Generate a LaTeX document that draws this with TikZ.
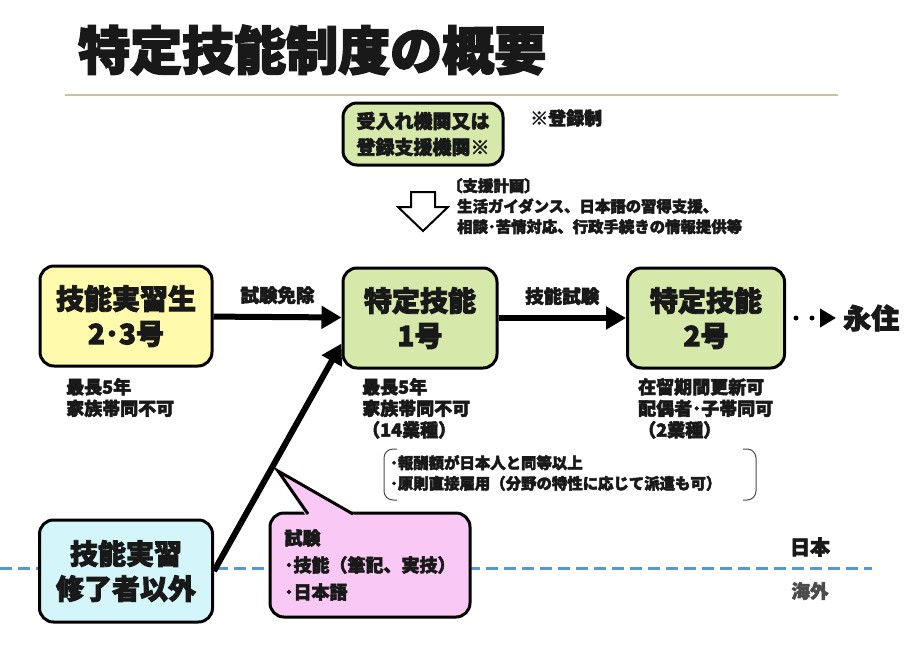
\documentclass[tikz,border=0pt]{standalone}
\usepackage{fontspec}
\setmainfont{Noto Sans CJK JP}[BoldFeatures={FakeBold=3}]
\usetikzlibrary{arrows.meta,positioning,calc}
\definecolor{boxyellow}{RGB}{255,250,172}
\definecolor{boxgreen}{RGB}{214,233,170}
\definecolor{boxcyan}{RGB}{212,246,250}
\definecolor{boxpink}{RGB}{249,200,245}
\definecolor{lineblue}{RGB}{88,152,204}
\definecolor{ruleolive}{RGB}{196,198,160}

\begin{document}
\begin{tikzpicture}[x=1pt, y=-1pt, every node/.style={text=black!90},
  box/.style={draw, line width=3pt, rounded corners=14pt, align=center, minimum height=100pt, font=\bfseries\fontsize{28}{35}\selectfont},
  note/.style={anchor=north west, inner sep=0pt, align=left, font=\bfseries\fontsize{18}{21.5}\selectfont},
  small/.style={anchor=north west, inner sep=0pt, align=left, font=\bfseries\fontsize{15.4}{20.5}\selectfont},
  lbl/.style={inner sep=0pt, font=\bfseries\fontsize{18.5}{20}\selectfont},
  arrow/.style={-{Triangle[length=20pt,width=22pt]}, line width=6pt}]
\useasboundingbox[fill=white] (0,0) rectangle (912,648);
% title
\node[anchor=west, inner sep=0pt, font=\bfseries\fontsize{52}{52}\selectfont] (title) at (78,50) {特定技能制度の概要};
\draw[ruleolive, line width=1.5pt] (65,95) -- (838,95);
% border line Japan / abroad
\draw[lineblue, line width=3pt, dash pattern=on 12pt off 6pt] (0,568) -- (872,568);
\node[lbl, font=\bfseries\fontsize{20}{20}\selectfont] (japan) at (810,547) {日本};
\node[lbl, text=black!70] (abroad) at (810,591) {海外};
% support organisation
\node[box, fill=boxgreen, minimum width=160pt, minimum height=62pt, font=\bfseries\fontsize{19}{26}\selectfont] (agency) at (423,134) {受入れ機関又は\\登録支援機関※};
\node[note, anchor=west] (reg) at (530,118) {※登録制};
\draw[line width=2pt, fill=white] (411,192) -- (435,192) -- (435,207) -- (448,207) -- (423,231) -- (398,207) -- (411,207) -- cycle;
\node[small] (plan) at (447,178) {〔支援計画〕\\\hspace*{10pt}生活ガイダンス、日本語の習得支援、\\\hspace*{10pt}相談･苦情対応、行政手続きの情報提供等};
% main boxes
\node[box, fill=boxyellow, minimum width=172pt] (trainee) at (126,316) {技能実習生\\2･3号};
\node[box, fill=boxgreen, minimum width=154pt] (ssw1) at (420,318) {特定技能\\1号};
\node[box, fill=boxgreen, minimum width=157pt] (ssw2) at (706,318) {特定技能\\2号};
\node[anchor=west, inner sep=0pt, font=\bfseries\fontsize{28}{28}\selectfont] (pr) at (843,318) {永住};
\node[box, fill=boxcyan, minimum width=173pt, minimum height=102pt] (others) at (126,571) {技能実習\\修了者以外};
% notes
\node[note] (note1) at (66,378) {最長5年\\家族帯同不可};
\node[note] (note2) at (362,378) {最長5年\\家族帯同不可\\（14業種）};
\node[note] (note3) at (638,378) {在留期間更新可\\配偶者･子帯同可\\（2業種）};
\node[small] (cond) at (390,455) {･報酬額が日本人と同等以上\\･原則直接雇用（分野の特性に応じて派遣も可）};
\draw[line width=1pt, black!70, rounded corners=9pt] (397,449) -- (384,449) -- (384,500) -- (397,500);
\draw[line width=1pt, black!70, rounded corners=9pt] (743,449) -- (756,449) -- (756,500) -- (743,500);
% exam callout
\node[draw, line width=3pt, fill=boxpink, rounded corners=14pt, minimum width=200pt, minimum height=104pt, align=left, font=\bfseries\fontsize{18}{27}\selectfont] (exam) at (370,565) {試験\\･技能（筆記、実技）\\･日本語};
\coordinate (examtip) at (278,471);
\fill[boxpink] (306,516) -- (examtip) -- (356,516) -- cycle;
\draw[line width=3pt, line join=miter] (308,514) -- (examtip) -- (353,514);
% arrows
\draw[arrow] (trainee) -- (ssw1) node[midway, lbl, above=10pt] {試験免除};
\draw[arrow] (ssw1) -- (ssw2) node[midway, lbl, above=10pt] {技能試験};
\draw[arrow] (others.east) -- (ssw1.198);
\draw[line width=5pt, line cap=round, dash pattern=on 0pt off 16pt, -{Triangle[length=16pt,width=18pt]}, shorten <=10pt, shorten >=7pt] (ssw2) -- (pr);
\end{tikzpicture}
\end{document}
